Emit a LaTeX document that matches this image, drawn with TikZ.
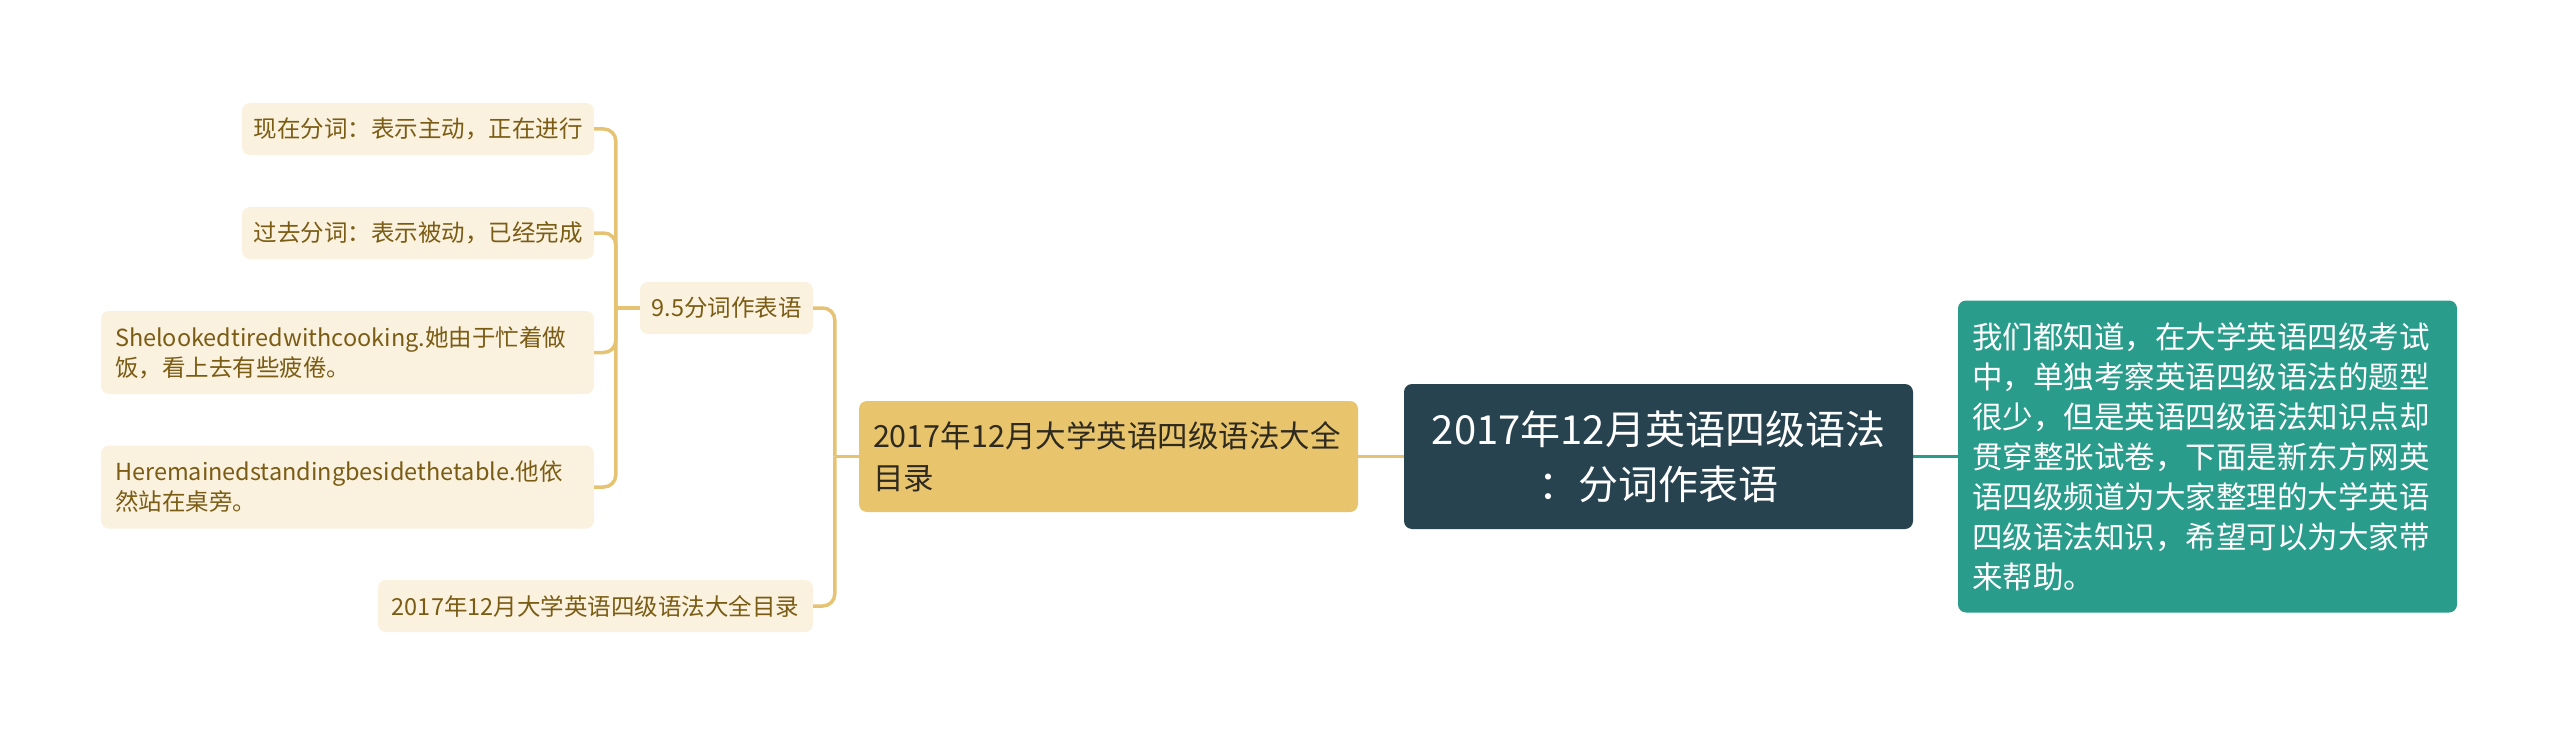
\documentclass[tikz,border=0pt]{standalone}
\usepackage{fontspec}
\setmainfont{Noto Sans CJK SC}
\usetikzlibrary{positioning}

\definecolor{rootbg}{HTML}{27434F}
\definecolor{introbg}{HTML}{2A9C8B}
\definecolor{goldbg}{HTML}{E8C46C}
\definecolor{goldtext}{HTML}{2E2A1F}
\definecolor{leafbg}{HTML}{FAF1DE}
\definecolor{leaftext}{HTML}{7A5C14}
\definecolor{goldline}{HTML}{E6C372}

\begin{document}
\begin{tikzpicture}[x=1pt,y=-1pt,on grid,
    rootbox/.style={fill=rootbg,text=white,rounded corners=8pt,align=center,
      font=\fontsize{40}{55}\selectfont,minimum width=509pt,minimum height=145pt},
    introbox/.style={fill=introbg,text=white,rounded corners=8pt,align=left,
      font=\fontsize{30.5}{40}\selectfont,inner xsep=14pt,text width=471pt,minimum height=312pt},
    topicbox/.style={fill=goldbg,text=goldtext,rounded corners=8pt,align=left,
      font=\fontsize{30.5}{42}\selectfont,inner xsep=14pt,text width=471pt,minimum height=111pt},
    leaf/.style={fill=leafbg,text=leaftext,rounded corners=8pt,
      font=\fontsize{23.5}{30}\selectfont,minimum height=52pt},
    leafwide/.style={leaf,align=left,inner xsep=14pt,text width=465pt,minimum height=83pt},
    goldlink/.style={draw=goldline,line width=3.5pt},
    teallink/.style={draw=introbg,line width=3.5pt}]
  \useasboundingbox (0,0) rectangle (2560,733);

  \node[rootbox] (root) at (1658.5,456.5) {2017年12月英语四级语法\\：分词作表语};
  \node[introbox] (intro) [right=549pt of root] {我们都知道，在大学英语四级考试\\中，单独考察英语四级语法的题型\\很少，但是英语四级语法知识点却\\贯穿整张试卷，下面是新东方网英\\语四级频道为大家整理的大学英语\\四级语法知识，希望可以为大家带\\来帮助。};
  \node[topicbox] (guide) [left=550pt of root] {2017年12月大学英语四级语法大全\\目录};

  \node[leaf,minimum width=173pt] (sec) [above left=148.5pt and 382pt of guide] {9.5分词作表语};
  \node[leaf,minimum width=435pt] (list) [below left=149.5pt and 513pt of guide] {2017年12月大学英语四级语法大全目录};

  \node[leaf,minimum width=352pt] (pres) [above left=179pt and 308.5pt of sec] {现在分词：表示主动，正在进行};
  \node[leaf,minimum width=352pt] (past) [above left=75pt and 308.5pt of sec] {过去分词：表示被动，已经完成};
  \node[leafwide] (she) [below left=44.5pt and 379pt of sec] {Shelookedtiredwithcooking.她由于忙着做\\饭，看上去有些疲倦。};
  \node[leafwide] (he) [below left=179pt and 379pt of sec] {Heremainedstandingbesidethetable.他依\\然站在桌旁。};

  % connectors
  \coordinate (gt) at ([xshift=-24pt]guide.west);
  \coordinate (st) at ([xshift=-24pt]sec.west);
  \draw[teallink] (root.east) -- (intro.west);
  \draw[goldlink] (guide.east) -- (root.west);
  \draw[goldlink] (guide.west) -- (gt);
  \foreach \n in {sec,list}
    \draw[goldlink,rounded corners=12pt] (gt) |- (\n.east);
  \draw[goldlink] (sec.west) -- (st);
  \foreach \n in {pres,past,she,he}
    \draw[goldlink,rounded corners=12pt] (st) |- (\n.east);
\end{tikzpicture}
\end{document}
